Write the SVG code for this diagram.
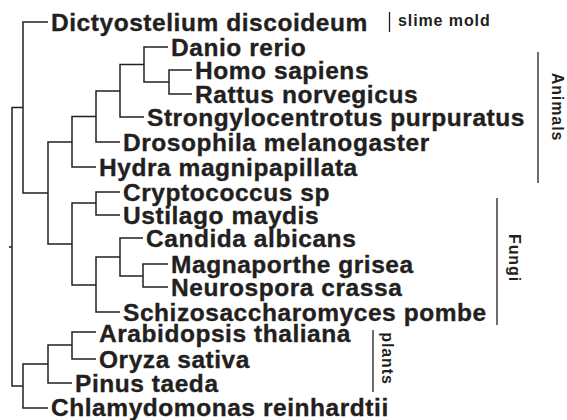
<svg xmlns="http://www.w3.org/2000/svg" width="567" height="420" viewBox="0 0 567 420">
<style>
.t{font-family:"Liberation Sans",Arial,Helvetica,sans-serif;font-weight:bold;font-size:24.5px;letter-spacing:0.55px;fill:#231f20;stroke:#231f20;stroke-width:0.35px}
.s{font-family:"Liberation Sans",Arial,Helvetica,sans-serif;font-weight:bold;font-size:16px;letter-spacing:0.9px;fill:#231f20}
.e{fill:none;stroke:#231f20;stroke-width:1.5}
.b{fill:none;stroke:#231f20;stroke-width:1.3}
</style>
<rect width="567" height="420" fill="#fff"/>
<g id="connectors">
<path class="e" d="M23,107.5 H12 V386 H23 M9,247 H12"/>
<path class="e" d="M48,22 H23 V193 H48"/>
<path class="e" d="M72,142 H48 V244 H72"/>
<path class="e" d="M96,116.5 H72 V167 H96"/>
<path class="e" d="M120,91 H96 V142 H120"/>
<path class="e" d="M144,64.5 H120 V117 H144"/>
<path class="e" d="M168,47 H144 V82 H169"/>
<path class="e" d="M192,70 H169 V94 H192"/>
<path class="e" d="M96,203 H72 V285 H96"/>
<path class="e" d="M120,192 H96 V215 H120"/>
<path class="e" d="M120,257 H96 V312 H120"/>
<path class="e" d="M143,238 H120 V276 H143"/>
<path class="e" d="M168,264 H143 V287 H168"/>
<path class="e" d="M48,364 H23 V408 H48"/>
<path class="e" d="M72,345 H48 V383 H72"/>
<path class="e" d="M96,332 H72 V359 H96"/>
</g>
<g id="n-dictyostelium"><text class="t" x="51" y="30.5">Dictyostelium discoideum</text></g>
<g id="n-danio"><text class="t" x="171" y="55.5">Danio rerio</text></g>
<g id="n-homo"><text class="t" x="195" y="79">Homo sapiens</text></g>
<g id="n-rattus"><text class="t" x="195" y="103">Rattus norvegicus</text></g>
<g id="n-strongylocentrotus"><text class="t" x="147" y="126">Strongylocentrotus purpuratus</text></g>
<g id="n-drosophila"><text class="t" x="123" y="151">Drosophila melanogaster</text></g>
<g id="n-hydra"><text class="t" x="99" y="176">Hydra magnipapillata</text></g>
<g id="n-cryptococcus"><text class="t" x="123" y="201">Cryptococcus sp</text></g>
<g id="n-ustilago"><text class="t" x="123" y="224">Ustilago maydis</text></g>
<g id="n-candida"><text class="t" x="146" y="247">Candida albicans</text></g>
<g id="n-magnaporthe"><text class="t" x="171" y="273">Magnaporthe grisea</text></g>
<g id="n-neurospora"><text class="t" x="171" y="296">Neurospora crassa</text></g>
<g id="n-schizosaccharomyces"><text class="t" x="123" y="320.5">Schizosaccharomyces pombe</text></g>
<g id="n-arabidopsis"><text class="t" x="99" y="342">Arabidopsis thaliana</text></g>
<g id="n-oryza"><text class="t" x="99" y="368">Oryza sativa</text></g>
<g id="n-pinus"><text class="t" x="75" y="392">Pinus taeda</text></g>
<g id="n-chlamydomonas"><text class="t" x="51" y="416">Chlamydomonas reinhardtii</text></g>
<g id="g-slime">
<path class="b" d="M389.5,12 V32"/>
<text class="s" x="398" y="26">slime mold</text>
</g>
<g id="g-animals">
<path class="b" d="M538,52 V183"/>
<text class="s" text-anchor="middle" transform="translate(552,107) rotate(90)">Animals</text>
</g>
<g id="g-fungi">
<path class="b" d="M497,198 V325"/>
<text class="s" text-anchor="middle" transform="translate(509,258) rotate(90)">Fungi</text>
</g>
<g id="g-plants">
<path class="b" d="M373,330 V392"/>
<text class="s" text-anchor="middle" transform="translate(382,358.5) rotate(90)">plants</text>
</g>
</svg>
